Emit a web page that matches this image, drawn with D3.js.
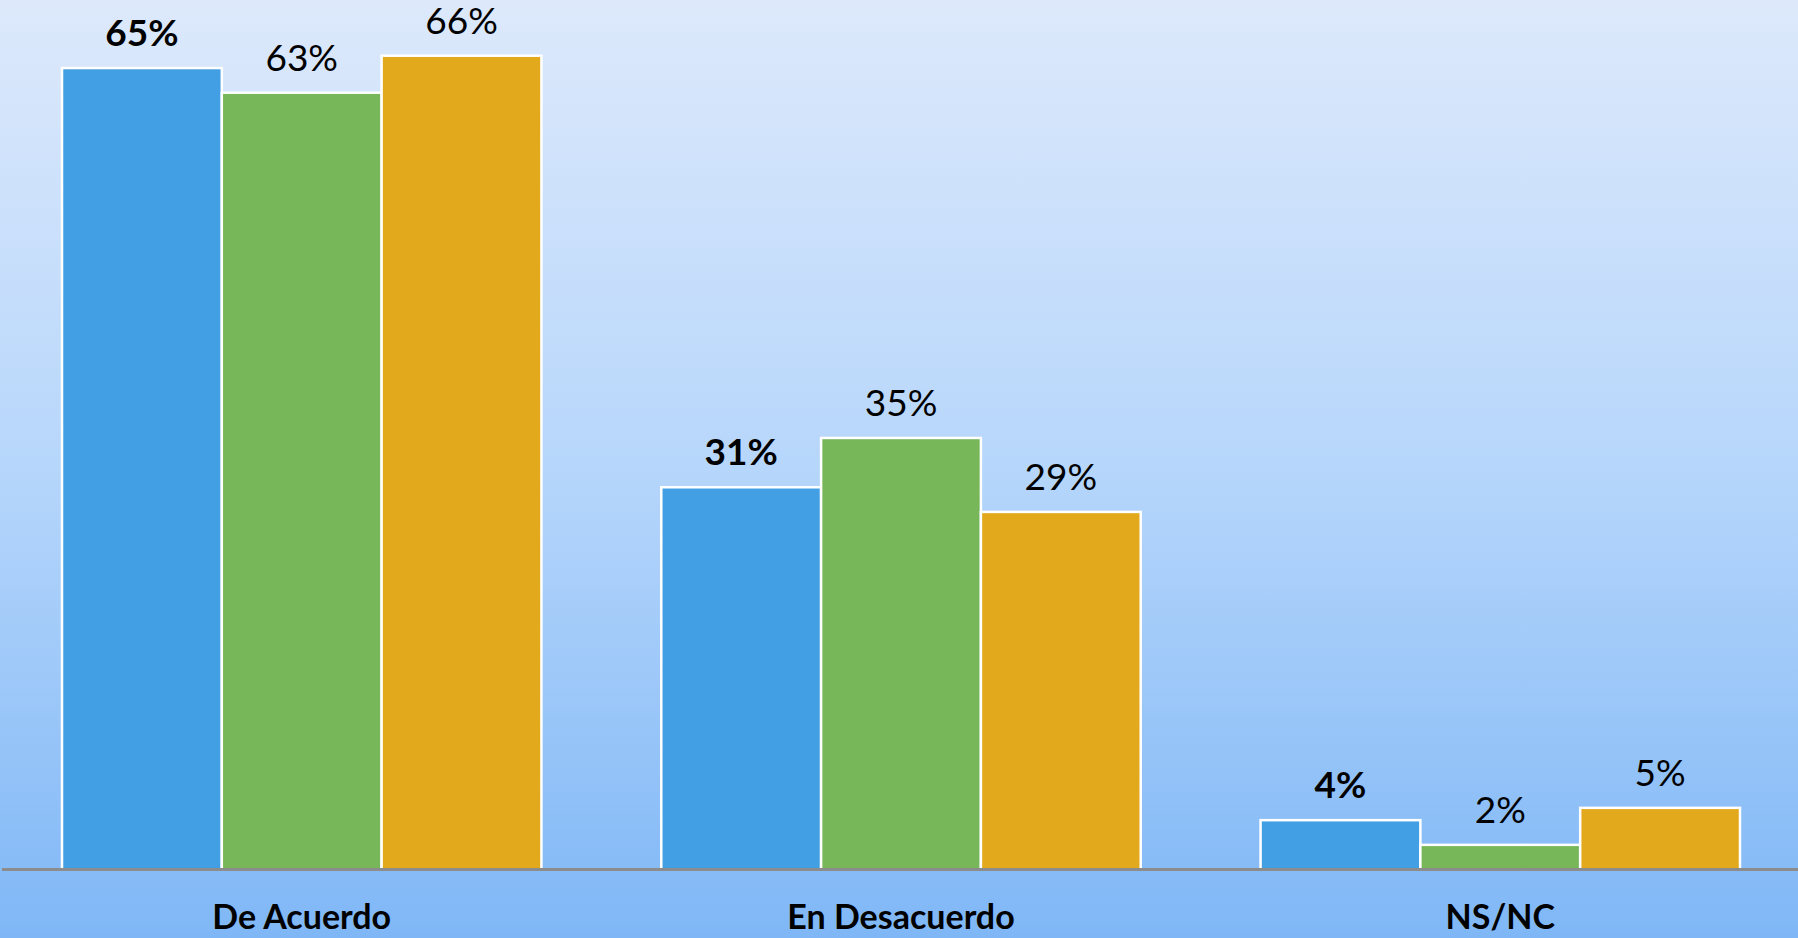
<!DOCTYPE html>
<html>
<head>
<meta charset="utf-8">
<script src="https://cdn.jsdelivr.net/npm/d3@7"></script>
<style>
html,body{margin:0;padding:0;overflow:hidden;}
svg{display:block;}
</style>
</head>
<body>
<svg id="chart" width="1798" height="938"></svg>
<script>
const categories = ["De Acuerdo", "En Desacuerdo", "NS/NC"];
const seriesNames = ["s1", "s2", "s3"];
const series1 = [65, 31, 4];
const series2 = [63, 35, 2];
const series3 = [66, 29, 5];
const seriesColors = ["#429fe3", "#78b65a", "#e2a91c"];
const seriesBold = [true, false, false];

const W = 1798, H = 938;
const svg = d3.select("#chart");

const defs = svg.append("defs");
const grad = defs.append("linearGradient").attr("id", "bg").attr("x1", 0).attr("y1", 0).attr("x2", 0).attr("y2", 1);
grad.append("stop").attr("offset", "0%").attr("stop-color", "#dde9fb");
grad.append("stop").attr("offset", "50%").attr("stop-color", "#b6d6fb");
grad.append("stop").attr("offset", "100%").attr("stop-color", "#7fb7f6");
svg.append("rect").attr("width", W).attr("height", H).attr("fill", "url(#bg)");

const baseY = 869.5;
const x0 = d3.scaleBand().domain(categories).range([62, 1740]).paddingInner(0.2).paddingOuter(0);
const x1 = d3.scaleBand().domain(seriesNames).range([0, x0.bandwidth()]).padding(0);
const y = d3.scaleLinear().domain([0, 70]).range([baseY, baseY - 12.33 * 70]);

const allSeries = [series1, series2, series3];
const data = categories.map((c, i) => ({
  cat: c,
  vals: seriesNames.map((s, j) => ({ s, j, v: allSeries[j][i] }))
}));

const groups = svg.selectAll("g.grp").data(data).enter().append("g")
  .attr("class", "grp")
  .attr("transform", d => `translate(${x0(d.cat)},0)`);

groups.selectAll("rect").data(d => d.vals).enter().append("rect")
  .attr("x", d => x1(d.s))
  .attr("y", d => y(d.v))
  .attr("width", x1.bandwidth())
  .attr("height", d => baseY - y(d.v))
  .attr("fill", d => seriesColors[d.j])
  .attr("stroke", "#ffffff")
  .attr("stroke-width", 2.5);

groups.selectAll("text.val").data(d => d.vals).enter().append("text")
  .attr("class", "val")
  .attr("x", d => x1(d.s) + x1.bandwidth() / 2)
  .attr("y", d => y(d.v) - 22)
  .attr("text-anchor", "middle")
  .attr("font-family", "Lato, 'Open Sans', sans-serif")
  .attr("font-size", 37)
  .attr("font-weight", d => seriesBold[d.j] ? 700 : 400)
  .attr("fill", "#000")
  .text(d => d.v + "%");

// axis line
const xAxis = d3.axisBottom(x0).tickSize(0).tickPadding(0).tickSizeOuter(0);
const axG = svg.append("g").attr("transform", `translate(0,${baseY})`).call(xAxis);
axG.select(".domain").remove();
svg.append("line").attr("x1", 2).attr("x2", W).attr("y1", baseY).attr("y2", baseY)
  .attr("stroke", "#8c8c8c").attr("stroke-width", 3);
axG.selectAll(".tick text")
  .attr("y", 929 - baseY)
  .attr("dy", 0)
  .attr("font-family", "Lato, 'Open Sans', sans-serif")
  .attr("font-size", 34)
  .attr("font-weight", 700)
  .attr("fill", "#000");
</script>
</body>
</html>
